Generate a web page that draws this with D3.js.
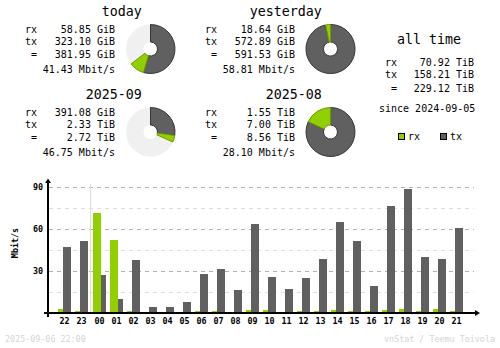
<!DOCTYPE html>
<html><head><meta charset="utf-8">
<script src="https://cdn.jsdelivr.net/npm/d3@7"></script>
<style>
html,body{margin:0;padding:0;background:#fff;}
svg{display:block;}
text{font-family:"DejaVu Sans Mono",monospace;fill:#000;}
</style></head><body>
<svg id="c" width="500" height="348"></svg>
<script>
// ---- summary data ----
const periods   = ["today", "yesterday", "2025-09", "2025-08"];
const rxText    = ["58.85 GiB", "18.64 GiB", "391.08 GiB", "1.55 TiB"];
const txText    = ["323.10 GiB", "572.89 GiB", "2.33 TiB", "7.00 TiB"];
const totText   = ["381.95 GiB", "591.53 GiB", "2.72 TiB", "8.56 TiB"];
const rateText  = ["41.43 Mbit/s", "58.81 Mbit/s", "46.75 Mbit/s", "28.10 Mbit/s"];
const rxGiB     = [58.85, 18.64, 391.08, 1.55 * 1024];
const txGiB     = [323.10, 572.89, 2.33 * 1024, 7.00 * 1024];

const allTimeRows = ["70.92 TiB", "158.21 TiB", "229.12 TiB"];
const sinceText   = "since 2024-09-05";

// ---- hourly data (Mbit/s) ----
const hours  = ["22","23","00","01","02","03","04","05","06","07","08","09","10","11","12","13","14","15","16","17","18","19","20","21"];
const rxRate = [2.4,1,71.7,52.4,1,0,0,0,1,1,0,1.6,1.7,0,1,1,1.7,1,1,1.7,2.4,1,2.4,1];
const txRate = [47.4,51.7,26.7,9.5,37.4,3.8,3.8,7.4,27.4,31,16,63.8,25.2,16.7,24.5,38.8,65.2,51.7,18.8,76.7,88.8,40.2,38.8,61];
const yTicks = [30, 60, 90];
const yMinor = [15, 45, 75];
const dayStartIndex = 2;

const footLeft = "2025-09-06 22:00";
const footRight = "vnStat / Teemu Toivola";

const C = {rx:"#92cf00", rxD:"#6a9a00", tx:"#606060", txD:"#353535", bg:"#f0f0f0",
           line:"#b0b0b0", lineL:"#e0e0e0", foot:"#d4d4d4"};

const svg = d3.select("#c");

// ---- summary blocks ----
const blocks = [
  {dx:0, dy:0}, {dx:180, dy:0}, {dx:0, dy:83}, {dx:180, dy:83}
];
const arcGen = d3.arc().innerRadius(7).outerRadius(24.5);
function pieGroup(i, frac) {
  const b = blocks[i];
  const g = svg.append("g");
  g.append("text").attr("x", 141.7 + b.dx).attr("y", 16 + b.dy)
    .attr("text-anchor","end").style("font-size","13.3px").text(periods[i]);
  const labels = ["rx","tx"," ="];
  const vals = [rxText[i], txText[i], totText[i]];
  const ys = [33.3, 45, 58.3];
  labels.forEach((l,k) => {
    g.append("text").attr("x", 25 + b.dx).attr("y", ys[k] + b.dy)
      .style("font-size","10px").attr("xml:space","preserve").style("white-space","pre").text(l);
    g.append("text").attr("x", 115 + b.dx).attr("y", ys[k] + b.dy)
      .attr("text-anchor","end").style("font-size","10px").text(vals[k]);
  });
  g.append("text").attr("x", 115 + b.dx).attr("y", 72.5 + b.dy)
    .attr("text-anchor","end").style("font-size","10px").text(rateText[i]);

  const pg = g.append("g").attr("transform", `translate(${150.5 + b.dx},${49 + b.dy})`);
  pg.append("path").attr("d", arcGen({startAngle:0, endAngle:2*Math.PI})).attr("fill", C.bg);
  const tot = rxGiB[i] + txGiB[i];
  const full = 2 * Math.PI * frac;
  const txEnd = full * txGiB[i] / tot;
  pg.append("path").attr("d", arcGen({startAngle:0, endAngle:txEnd}))
    .attr("fill", C.tx).attr("stroke", C.txD).attr("stroke-width", 1);
  pg.append("path").attr("d", arcGen({startAngle:txEnd, endAngle:full}))
    .attr("fill", C.rx).attr("stroke", C.rxD).attr("stroke-width", 1);
}
const tots = rxGiB.map((r,i) => r + txGiB[i]);
const dayMax = d3.max([tots[0], tots[1]]);
const monMax = d3.max([tots[2], tots[3]]);
pieGroup(0, tots[0] / dayMax);
pieGroup(1, tots[1] / dayMax);
pieGroup(2, tots[2] / monMax);
pieGroup(3, tots[3] / monMax);

// ---- all time ----
svg.append("text").attr("x", 397).attr("y", 44).style("font-size","13.3px").text("all time");
const atLabels = ["rx","tx"," ="];
const atY = [65.7, 77.7, 91.7];
atLabels.forEach((l,k) => {
  svg.append("text").attr("x", 385).attr("y", atY[k]).style("font-size","10px").style("white-space","pre").text(l);
  svg.append("text").attr("x", 474).attr("y", atY[k]).attr("text-anchor","end").style("font-size","10px").text(allTimeRows[k]);
});
svg.append("text").attr("x", 379).attr("y", 111.7).style("font-size","10px").text(sinceText);

// legend
[["rx", C.rx, C.rxD, 398], ["tx", C.tx, C.txD, 440]].forEach(([n, f, s, x]) => {
  svg.append("rect").attr("x", x + 0.5).attr("y", 133.5).attr("width", 6).attr("height", 6)
    .attr("fill", f).attr("stroke", "#000").attr("stroke-width", 1);
  svg.append("text").attr("x", x + 10).attr("y", 139.5).style("font-size","10px").text(n);
});

// ---- hourly chart ----
const y = d3.scaleLinear().domain([0, 90]).range([312.5, 187.3]);
const x = d3.scaleBand().domain(hours).range([58, 58 + 24 * 17]).paddingInner(0).paddingOuter(0);
const xp = (h, i) => x(h) + (i >= dayStartIndex ? 1 : 0);

const gx0 = 49, gx1 = 474;
yMinor.forEach(v => svg.append("line").attr("x1", gx0).attr("x2", gx1)
  .attr("y1", Math.round(y(v)) + 0.5).attr("y2", Math.round(y(v)) + 0.5)
  .attr("stroke", C.lineL).attr("stroke-dasharray", "4,4"));
yTicks.forEach(v => svg.append("line").attr("x1", gx0).attr("x2", gx1)
  .attr("y1", Math.round(y(v)) + 0.5).attr("y2", Math.round(y(v)) + 0.5)
  .attr("stroke", C.line).attr("stroke-dasharray", "4,4"));

// day separator
svg.append("line").attr("x1", xp(hours[dayStartIndex], dayStartIndex) - 2.5)
  .attr("x2", xp(hours[dayStartIndex], dayStartIndex) - 2.5)
  .attr("y1", 184).attr("y2", 312.5).attr("stroke", "#dcdcdc");

// bars: larger drawn last
const bars = svg.append("g").attr("shape-rendering","crispEdges");
hours.forEach((h, i) => {
  const items = [
    {v: rxRate[i], off: 0, c: C.rx},
    {v: txRate[i], off: 5, c: C.tx}
  ].sort((a,b) => a.v - b.v);
  items.forEach(d => {
    if (d.v <= 0) return;
    const top = Math.round(y(d.v));
    bars.append("rect").attr("x", xp(h,i) + d.off).attr("y", top)
      .attr("width", 8).attr("height", Math.max(1, 312.5 - top)).attr("fill", d.c);
  });
  svg.append("text").attr("x", xp(h,i) + 6.5).attr("y", 324).attr("text-anchor","middle")
    .style("font-size","8.4px").style("font-weight","bold").text(h);
});

// axes
const ax = svg.append("g").attr("shape-rendering","crispEdges");
ax.append("rect").attr("x", 47).attr("y", 182).attr("width", 2).attr("height", 135).attr("fill", "#000");
ax.append("rect").attr("x", 44).attr("y", 312).attr("width", 432).attr("height", 2).attr("fill", "#000");
svg.append("path").attr("d", "M48,178.5 L51,183 L45,183 Z").attr("fill", "#000");
svg.append("path").attr("d", "M480,313 L475,310 L475,316 Z").attr("fill", "#000");

yTicks.forEach(v => svg.append("text").attr("x", 43).attr("y", y(v) + 3).attr("text-anchor","end")
  .style("font-size","8.4px").style("font-weight","bold").text(v));
svg.append("text").attr("transform", "translate(17.5,243) rotate(-90)").attr("text-anchor","middle")
  .style("font-size","8.4px").style("font-weight","bold").text("Mbit/s");

// footer
svg.append("text").attr("x", 5).attr("y", 342).style("font-size","8.4px").style("fill", C.foot).text(footLeft);
svg.append("text").attr("x", 495).attr("y", 342).attr("text-anchor","end").style("font-size","8.4px").style("fill", C.foot).text(footRight);
</script>
</body></html>
